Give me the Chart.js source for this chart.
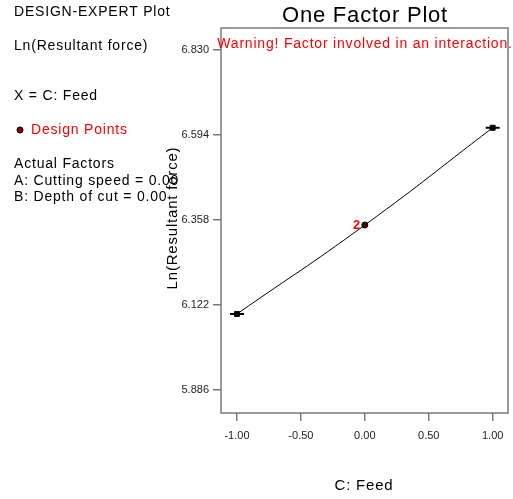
<!DOCTYPE html>
<html>
<head>
<meta charset="utf-8">
<title>One Factor Plot</title>
<script src="https://cdn.jsdelivr.net/npm/chart.js@4/dist/chart.umd.min.js"></script>
<style>
  html, body { margin: 0; padding: 0; background: #fff; }
  #wrap { width: 513px; height: 499px; position: relative; }
</style>
</head>
<body>
<div id="wrap"><canvas id="oneFactor" width="513" height="499"></canvas></div>
<script>
// Feed levels (coded) and the predicted Ln(Resultant force) at each
const feedLevels = [-1, 0, 1];
const lnForce = [6.097, 6.344, 6.614];
// how many design runs sit at each level
const designCounts = [1, 2, 1];

const xTicks = [-1, -0.5, 0, 0.5, 1];
const yTicks = [5.886, 6.122, 6.358, 6.594, 6.830];

const sideNotes = [
    { text: 'DESIGN-EXPERT Plot', y: 16 },
    { text: 'Ln(Resultant force)', y: 50 },
    { text: 'X = C: Feed', y: 100 },
    { text: 'Actual Factors', y: 168 },
    { text: 'A: Cutting speed = 0.00', y: 185 },
    { text: 'B: Depth of cut = 0.00', y: 201 }
];

const FONT = '"Liberation Sans", Arial, sans-serif';
const AXIS_GREY = '#7a7a7a';
const PLOT_RIGHT = 508;

// the x scale keeps some right padding of its own; push the plot edge out to PLOT_RIGHT
const stretchRight = {
    id: 'stretchRight',
    afterLayout(chart) {
        const a = chart.chartArea;
        const xs = chart.scales.x;
        a.right = PLOT_RIGHT;
        a.width = a.right - a.left;
        xs.right = PLOT_RIGHT;
        xs.width = xs.right - xs.left;
        xs.configure();
    }
};

// texts, box and point counts drawn straight on the canvas
const decorations = {
    id: 'decorations',
    afterDraw(chart) {
        const ctx = chart.ctx;
        const a = chart.chartArea;
        ctx.save();

        // frame round the plot area
        ctx.strokeStyle = AXIS_GREY;
        ctx.lineWidth = 1.5;
        ctx.strokeRect(a.left, a.top, a.right - a.left, a.bottom - a.top);

        ctx.letterSpacing = '0.8px';

        // left side notes
        ctx.fillStyle = '#000';
        ctx.font = '14px ' + FONT;
        ctx.textAlign = 'left';
        ctx.textBaseline = 'alphabetic';
        sideNotes.forEach(n => ctx.fillText(n.text, 14, n.y));

        // design points key
        ctx.beginPath();
        ctx.arc(20, 130, 3, 0, Math.PI * 2);
        ctx.fillStyle = '#8b0000';
        ctx.fill();
        ctx.lineWidth = 1;
        ctx.strokeStyle = '#000';
        ctx.stroke();
        ctx.fillStyle = '#ff0000';
        ctx.fillText('Design Points', 31, 134);

        // title and warning
        ctx.fillStyle = '#000';
        ctx.font = '22px ' + FONT;
        ctx.textAlign = 'center';
        ctx.fillText('One Factor Plot', 365, 22);

        ctx.fillStyle = '#ff0000';
        ctx.font = '14px ' + FONT;
        ctx.fillText('Warning! Factor involved in an interaction.', 365, 48);

        // axis titles
        ctx.fillStyle = '#000';
        ctx.font = '15px ' + FONT;
        ctx.fillText('C: Feed', 364, 490);

        ctx.save();
        ctx.translate(177, 218);
        ctx.rotate(-Math.PI / 2);
        ctx.fillText('Ln(Resultant force)', 0, 0);
        ctx.restore();

        // run counts next to stacked design points
        const xs = chart.scales.x, ys = chart.scales.y;
        ctx.letterSpacing = '0px';
        ctx.fillStyle = '#ff0000';
        ctx.font = 'bold 13px ' + FONT;
        ctx.textAlign = 'right';
        ctx.textBaseline = 'middle';
        designCounts.forEach((c, i) => {
            if (c > 1) {
                ctx.fillText(String(c), xs.getPixelForValue(feedLevels[i]) - 4.5, ys.getPixelForValue(lnForce[i]));
            }
        });

        ctx.restore();
    }
};

const predicted = feedLevels.map((x, i) => ({ x: x, y: lnForce[i] }));
const multiRuns = feedLevels.map((x, i) => ({ x: x, y: lnForce[i], n: designCounts[i] })).filter(p => p.n > 1);
const singleRuns = feedLevels.map((x, i) => ({ x: x, y: lnForce[i], n: designCounts[i] })).filter(p => p.n === 1);

new Chart(document.getElementById('oneFactor'), {
    type: 'scatter',
    data: {
        datasets: [
            {
                label: 'prediction',
                data: predicted,
                showLine: true,
                tension: 0.5,
                borderColor: '#000',
                borderWidth: 1,
                pointRadius: 0
            },
            {
                label: 'end bars',
                data: singleRuns,
                pointStyle: 'line',
                pointRadius: 7,
                borderColor: '#000',
                borderWidth: 2
            },
            {
                label: 'end points',
                data: singleRuns,
                pointStyle: 'rect',
                pointRadius: 3.5,
                backgroundColor: '#000',
                borderColor: '#000',
                borderWidth: 1
            },
            {
                label: 'design points',
                data: multiRuns,
                pointStyle: 'circle',
                pointRadius: 3,
                backgroundColor: '#6b0000',
                borderColor: '#000',
                borderWidth: 1
            }
        ]
    },
    options: {
        responsive: false,
        animation: false,
        layout: { padding: { top: 28, right: 5, left: 0, bottom: 0 } },
        plugins: {
            legend: { display: false },
            tooltip: { enabled: false },
            title: { display: false }
        },
        scales: {
            x: {
                type: 'linear',
                min: -1.125,
                max: 1.12,
                afterBuildTicks: s => { s.ticks = xTicks.map(v => ({ value: v })); },
                afterFit: s => { s.height = 86; },
                border: { display: false },
                grid: { drawOnChartArea: false, drawTicks: true, tickLength: 8, color: AXIS_GREY, lineWidth: 1.5 },
                ticks: {
                    color: '#222',
                    font: { family: FONT, size: 11 },
                    padding: 8,
                    maxRotation: 0,
                    callback: v => v.toFixed(2)
                }
            },
            y: {
                type: 'linear',
                min: 5.822,
                max: 6.891,
                afterBuildTicks: s => { s.ticks = yTicks.map(v => ({ value: v })); },
                afterFit: s => { s.width = 221; },
                border: { display: false },
                grid: { drawOnChartArea: false, drawTicks: true, tickLength: 8, color: AXIS_GREY, lineWidth: 1.5 },
                ticks: {
                    color: '#222',
                    font: { family: FONT, size: 11 },
                    padding: 4,
                    callback: v => v.toFixed(3)
                }
            }
        }
    },
    plugins: [stretchRight, decorations]
});
</script>
</body>
</html>
